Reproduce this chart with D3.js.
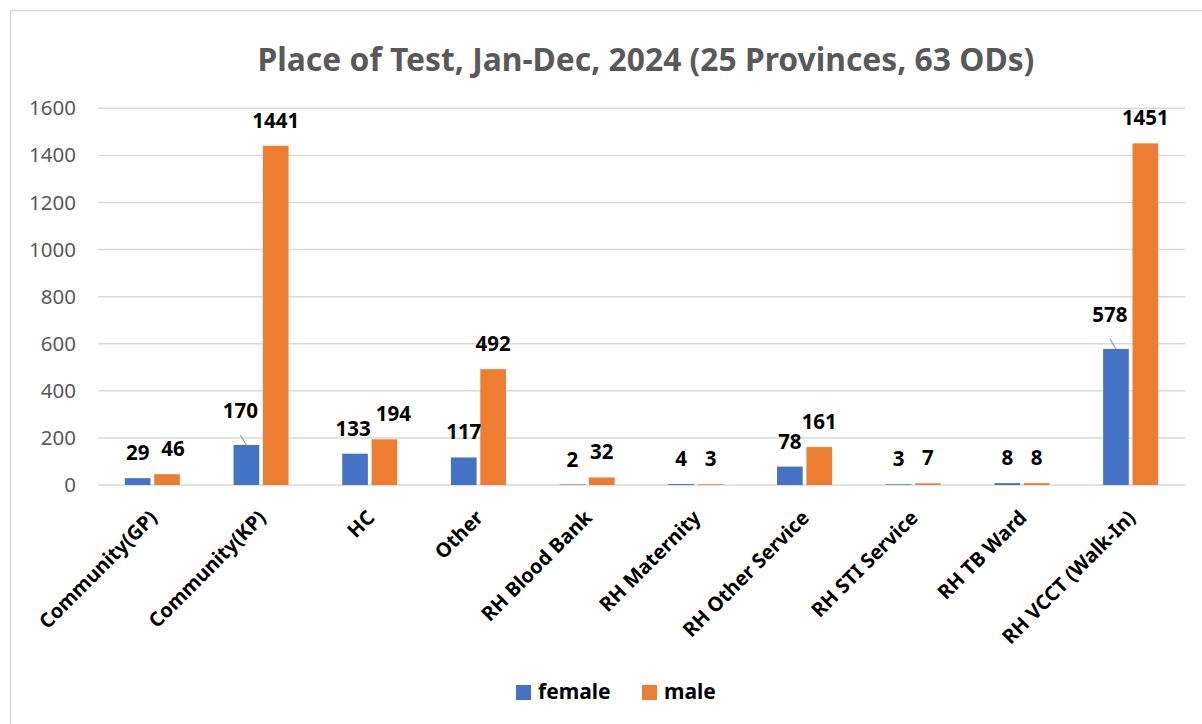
<!DOCTYPE html>
<html>
<head>
<meta charset="utf-8">
<script src="https://cdn.jsdelivr.net/npm/d3@7"></script>
<style>
  body { margin: 0; background: #fff; }
  text { font-family: "Noto Sans", "Open Sans", sans-serif; }
</style>
</head>
<body>
<div id="chart"></div>
<script>
// data
var places = ["Community(GP)", "Community(KP)", "HC", "Other", "RH Blood Bank",
    "RH Maternity", "RH Other Service", "RH STI Service", "RH TB Ward", "RH VCCT (Walk-In)"];
var female = [29, 170, 133, 117, 2, 4, 78, 3, 8, 578];
var male = [46, 1441, 194, 492, 32, 3, 161, 7, 8, 1451];
var seriesNames = ["female", "male"];
var yTicks = [0, 200, 400, 600, 800, 1000, 1200, 1400, 1600];
// labels that excel pushed up and joined to their bar with a leader line
var leaderLabels = ["Community(KP)|female", "RH VCCT (Walk-In)|female"];
// labels excel nudged sideways so they don't collide
var labelNudge = {"Community(GP)|male": 6, "HC|male": 9, "HC|female": -2};

var colors = {female: "#4472C4", male: "#ED7D31"};

var W = 1202, H = 724;
var plotLeft = 98, plotRight = 1185, plotTop = 108.3, plotBottom = 485;

var svg = d3.select("#chart").append("svg")
    .attr("width", W)
    .attr("height", H);

// chart border
svg.append("rect")
    .attr("x", 10.5).attr("y", 10.5)
    .attr("width", W + 10).attr("height", H + 10)
    .attr("fill", "#fff")
    .attr("stroke", "#D9D9D9")
    .attr("stroke-width", 1.5);

var x0 = d3.scaleBand().domain(places).range([plotLeft, plotRight]);
var x1 = d3.scaleBand().domain(seriesNames)
    .range([x0.bandwidth() / 2 - 27.5, x0.bandwidth() / 2 + 27.5])
    .paddingInner(7 / 55);
var y = d3.scaleLinear().domain([0, 1600]).range([plotBottom, plotTop]);

// gridlines
svg.append("g").selectAll("line").data(yTicks).enter()
    .append("line")
    .attr("x1", plotLeft).attr("x2", plotRight)
    .attr("y1", function (d) { return y(d); })
    .attr("y2", function (d) { return y(d); })
    .attr("stroke", "#D9D9D9")
    .attr("stroke-width", 1.5);

// y axis labels
var yAxis = d3.axisLeft(y).tickValues(yTicks).tickSize(0).tickPadding(0).tickFormat(d3.format("d"));
var yg = svg.append("g").attr("transform", "translate(76,0)").call(yAxis);
yg.select(".domain").remove();
yg.selectAll("text")
    .attr("fill", "#595959")
    .style("font-size", "20.5px")
    .style("font-family", "'Noto Sans', sans-serif");

// build rows
var rows = places.map(function (p, i) {
    return {place: p, values: [
        {place: p, key: "female", value: female[i]},
        {place: p, key: "male", value: male[i]}
    ]};
});

var groups = svg.append("g").selectAll("g").data(rows).enter()
    .append("g")
    .attr("transform", function (d) { return "translate(" + x0(d.place) + ",0)"; });

groups.selectAll("rect").data(function (d) { return d.values; }).enter()
    .append("rect")
    .attr("x", function (d) { return x1(d.key); })
    .attr("width", x1.bandwidth())
    .attr("y", function (d) { return y(d.value); })
    .attr("height", function (d) { return plotBottom - y(d.value); })
    .attr("fill", function (d) { return colors[d.key]; });

// value labels
groups.each(function (row) {
    var g = d3.select(this);
    row.values.forEach(function (d) {
        var key = d.place + "|" + d.key;
        var cx = x1(d.key) + x1.bandwidth() / 2;
        var barTop = y(d.value);
        var lx = cx + (labelNudge[key] || 0), ly = barTop - 18;
        if (leaderLabels.indexOf(key) >= 0) {
            lx = cx - 6;
            ly = barTop - 27;
            g.append("line")
                .attr("x1", cx - 6).attr("y1", barTop - 10)
                .attr("x2", cx).attr("y2", barTop)
                .attr("stroke", "#A6A6A6")
                .attr("stroke-width", 1.3);
        }
        g.append("text")
            .attr("x", lx)
            .attr("y", ly)
            .attr("text-anchor", "middle")
            .attr("font-weight", "bold")
            .attr("font-size", "20.5px")
            .attr("fill", "#000")
            .text(d.value);
    });
});

// category labels, rotated
svg.append("g").selectAll("text").data(places).enter()
    .append("text")
    .attr("transform", function (d) {
        return "translate(" + (x0(d) + x0.bandwidth() / 2 + 6) + ",519) rotate(-45)";
    })
    .attr("text-anchor", "end")
    .attr("font-weight", "bold")
    .attr("font-size", "20px")
    .attr("fill", "#000")
    .text(function (d) { return d; });

// title
svg.append("text")
    .attr("x", 646)
    .attr("y", 71)
    .attr("text-anchor", "middle")
    .attr("font-weight", "bold")
    .attr("font-size", "31.8px")
    .attr("fill", "#595959")
    .text("Place of Test, Jan-Dec, 2024 (25 Provinces, 63 ODs)");

// legend
var legend = svg.append("g");
var legendX = [516, 642];
seriesNames.forEach(function (s, i) {
    legend.append("rect")
        .attr("x", legendX[i]).attr("y", 685)
        .attr("width", 15).attr("height", 15)
        .attr("fill", colors[s]);
    legend.append("text")
        .attr("x", legendX[i] + 22).attr("y", 699)
        .attr("font-weight", "bold")
        .attr("font-size", "21px")
        .attr("fill", "#000")
        .text(s);
});
</script>
</body>
</html>
